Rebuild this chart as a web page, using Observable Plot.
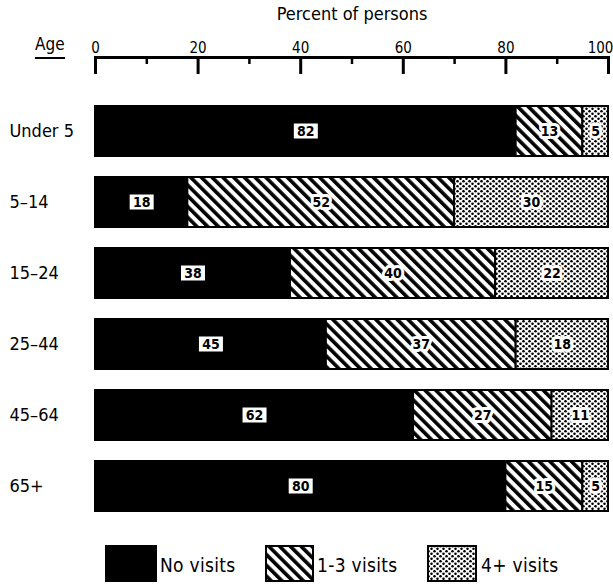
<!DOCTYPE html>
<html><head><meta charset="utf-8">
<script src="https://cdn.jsdelivr.net/npm/d3@7"></script>
<script src="https://cdn.jsdelivr.net/npm/@observablehq/plot@0.6"></script>
<style>
body{margin:0;background:#fff;}
#wrap{position:relative;width:613px;height:584px;font-family:"DejaVu Sans Condensed","DejaVu Sans",sans-serif;font-stretch:condensed;color:#000;}
#age{position:absolute;left:35px;top:35px;font-size:17px;line-height:18px;padding-bottom:4px;border-bottom:2.5px solid #000;}
#legend{position:absolute;left:0;top:535px;width:613px;height:49px;}
.sw{position:absolute;top:10px;height:37px;}
.lb{position:absolute;top:18px;font-size:19px;line-height:24px;letter-spacing:0.3px;}
</style></head><body>
<svg width="0" height="0" style="position:absolute"><defs>
<pattern id="hatch" patternUnits="userSpaceOnUse" width="7.6" height="7.6" patternTransform="rotate(-45)">
<rect width="7.6" height="7.6" fill="#fff"/><rect width="3.6" height="7.6" fill="#000"/></pattern>
<pattern id="dots" patternUnits="userSpaceOnUse" width="6" height="5">
<rect width="6" height="5" fill="#fff"/><circle cx="1.5" cy="1.25" r="1.3" fill="#000"/><circle cx="4.5" cy="3.75" r="1.3" fill="#000"/></pattern>
</defs></svg>
<div id="wrap"><div id="age">Age</div><div id="legend"></div></div>
<script>
const ages = ["Under 5", "5–14", "15–24", "25–44", "45–64", "65+"];
const visitTypes = ["No visits", "1-3 visits", "4+ visits"];
const noVisits = [82, 18, 38, 45, 62, 80];
const oneToThree = [13, 52, 40, 37, 27, 15];
const fourPlus = [5, 30, 22, 18, 11, 5];
const xTicks = [0, 20, 40, 60, 80];
const xLastTick = [100];
const xMinorTicks = [10, 30, 50, 70, 90];
const fills = ["#000", "url(#hatch)", "url(#dots)"];

const series = [noVisits, oneToThree, fourPlus];
const table = [];
ages.forEach((age, i) => {
  let acc = 0;
  series.forEach((vals, j) => {
    const v = vals[i];
    table.push({age, visits: visitTypes[j], value: v, x1: acc, x2: acc + v, mid: acc + v / 2});
    acc += v;
  });
});
const blackRows = table.filter(d => d.visits === visitTypes[0]);
const otherRows = table.filter(d => d.visits !== visitTypes[0]);
const ff = '"DejaVu Sans Condensed","DejaVu Sans",sans-serif';

const chart = Plot.plot({
  width: 613, height: 535,
  marginLeft: 95, marginRight: 5, marginTop: 57, marginBottom: 0,
  style: {fontFamily: ff, fontStretch: "condensed", fontSize: "17px", color: "#000", background: "#fff", overflow: "visible"},
  x: {domain: [0, 100]},
  y: {domain: ages, padding: 0.3, insetTop: 25.5, insetBottom: 0.5},
  color: {domain: visitTypes, range: fills},
  marks: [
    Plot.barX(table, {x1: "x1", x2: "x2", y: "age", fill: "visits", stroke: "#000", strokeWidth: 2}),
    Plot.frame({anchor: "top", strokeWidth: 3}),
    Plot.axisX(xTicks, {anchor: "top", tickSize: 0, fontSize: 18, tickFormat: () => "", label: "Percent of persons", labelAnchor: "center", labelArrow: "none", labelOffset: 50}),
    Plot.axisX(xTicks, {anchor: "top", tickSize: 0, tickPadding: 5, fontSize: 15, label: null}),
    Plot.axisX(xLastTick, {anchor: "top", tickSize: 0, tickPadding: 5, fontSize: 15, dx: -8, label: null}),
    Plot.axisX([...xTicks, ...xLastTick], {anchor: "top", tickSize: 16, dy: 16, fill: "none", strokeWidth: 3, label: null}),
    Plot.axisX(xMinorTicks, {anchor: "top", tickSize: 6, dy: 6, fill: "none", strokeWidth: 2.5, label: null}),
    Plot.axisY({tickSize: 0, textAnchor: "start", dx: -77, fontSize: 18, label: null}),
    Plot.tickX(blackRows, {x: "mid", y: "age", stroke: "#fff", strokeWidth: 24, insetTop: 17.5, insetBottom: 17.5}),
    Plot.text(blackRows, {x: "mid", y: "age", text: "value", fill: "#000", fontSize: 14, fontWeight: 600}),
    Plot.text(otherRows, {x: "mid", y: "age", text: "value", fill: "#000", stroke: "#fff", strokeWidth: 6, paintOrder: "stroke", fontSize: 14, fontWeight: 600})
  ]
});
const wrap = document.getElementById("wrap");
wrap.insertBefore(chart, wrap.firstChild);

// legend
const legend = document.getElementById("legend");
const swLeft = [105, 265, 427];
const swWidth = [52, 49, 50];
const lbLeft = [160, 317, 481];
visitTypes.forEach((name, j) => {
  const ns = "http://www.w3.org/2000/svg";
  const svg = document.createElementNS(ns, "svg");
  svg.setAttribute("class", "sw");
  svg.setAttribute("width", swWidth[j]);
  svg.setAttribute("height", 37);
  svg.style.left = swLeft[j] + "px";
  const r = document.createElementNS(ns, "rect");
  r.setAttribute("x", 1); r.setAttribute("y", 1);
  r.setAttribute("width", swWidth[j] - 2); r.setAttribute("height", 35);
  r.setAttribute("fill", fills[j]); r.setAttribute("stroke", "#000"); r.setAttribute("stroke-width", 2);
  svg.appendChild(r);
  legend.appendChild(svg);
  const t = document.createElement("div");
  t.className = "lb"; t.style.left = lbLeft[j] + "px"; t.textContent = name;
  legend.appendChild(t);
});
</script>
</body></html>
